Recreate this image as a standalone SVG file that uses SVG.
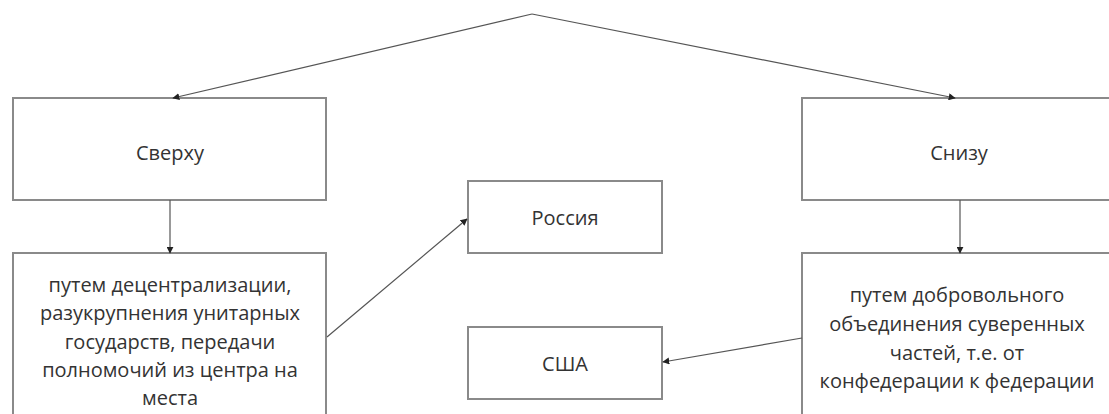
<svg xmlns="http://www.w3.org/2000/svg" width="1109" height="414" viewBox="0 0 1109 414">
<style>
.box{fill:#fff;stroke:#8a8a8a;stroke-width:2}
.lbl{font-family:"Open Sans",sans-serif;font-size:20px;fill:#333;text-anchor:middle}
.con{fill:none;stroke:#555;stroke-width:1.2}
</style>
<defs>
<marker id="arr" viewBox="0 0 10 10" refX="9" refY="5" markerWidth="7" markerHeight="7" markerUnits="userSpaceOnUse" orient="auto">
<path d="M0,0 L10,5 L0,10 z" fill="#222"/>
</marker>
</defs>
<rect width="1109" height="414" fill="#fff"/>
<g id="n-top">
<rect class="box" x="13" y="98" width="313" height="102"/>
<text class="lbl" x="170" y="160">Сверху</text>
</g>
<g id="n-bottom">
<rect class="box" x="802" y="98" width="320" height="102"/>
<text class="lbl" x="959" y="160">Снизу</text>
</g>
<g id="n-decentral">
<rect class="box" x="13" y="253" width="313" height="175"/>
<text class="lbl" x="170" y="292">путем децентрализации,</text>
<text class="lbl" x="170" y="320">разукрупнения унитарных</text>
<text class="lbl" x="170" y="349">государств, передачи</text>
<text class="lbl" x="170" y="377">полномочий из центра на</text>
<text class="lbl" x="170" y="405">места</text>
</g>
<g id="n-union">
<rect class="box" x="802" y="253" width="320" height="175"/>
<text class="lbl" x="957" y="302">путем добровольного</text>
<text class="lbl" x="957" y="331">объединения суверенных</text>
<text class="lbl" x="957" y="360">частей, т.е. от</text>
<text class="lbl" x="957" y="388">конфедерации к федерации</text>
</g>
<g id="n-russia">
<rect class="box" x="468" y="181" width="194" height="72"/>
<text class="lbl" x="565" y="225">Россия</text>
</g>
<g id="n-usa">
<rect class="box" x="468" y="327" width="194" height="72"/>
<text class="lbl" x="565" y="371">США</text>
</g>
<g id="connectors">
<path class="con" d="M532,14 L173,98" marker-end="url(#arr)"/>
<path class="con" d="M532,14 L955,98" marker-end="url(#arr)"/>
<path class="con" d="M170,200 L170,253" marker-end="url(#arr)"/>
<path class="con" d="M960,200 L960,253" marker-end="url(#arr)"/>
<path class="con" d="M327,337 L467,219" marker-end="url(#arr)"/>
<path class="con" d="M802,338 L663,362" marker-end="url(#arr)"/>
</g>
</svg>
